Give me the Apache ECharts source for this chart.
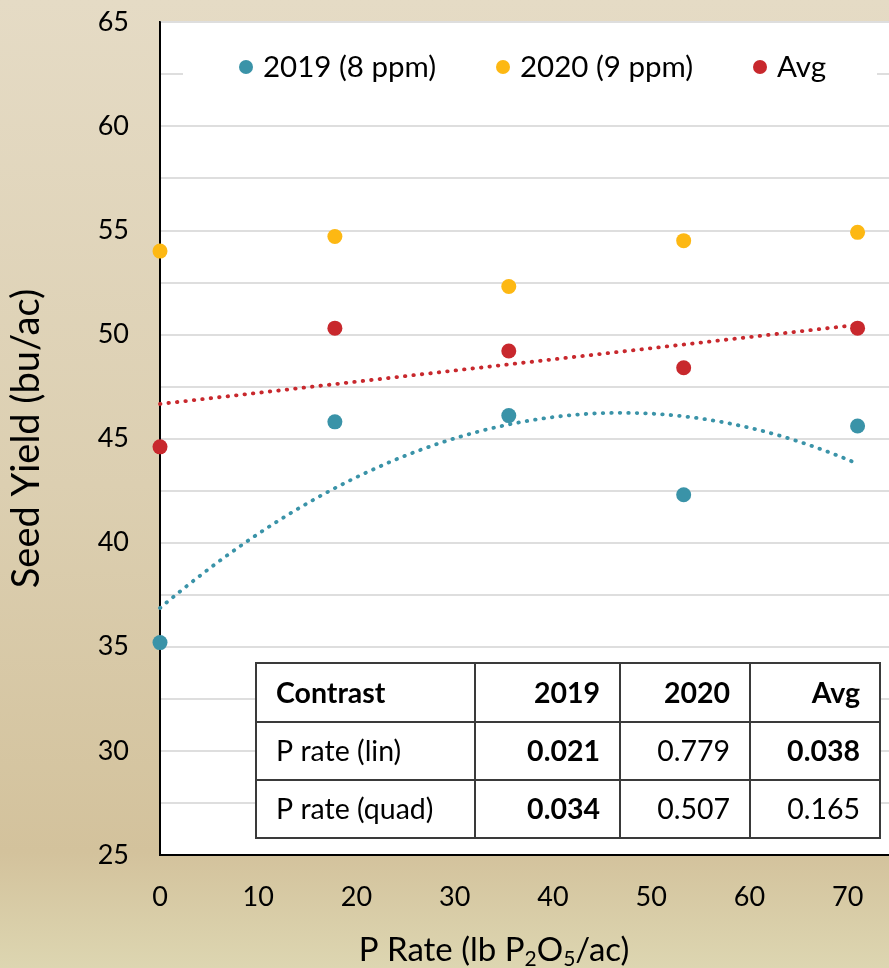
<!DOCTYPE html>
<html>
<head>
<meta charset="utf-8">
<title>Seed Yield vs P Rate</title>
<script src="https://cdn.jsdelivr.net/npm/echarts@6/dist/echarts.min.js"></script>
<style>
  html, body { margin: 0; padding: 0; overflow: hidden; }
  #chart { width: 960px; height: 968px; }
</style>
</head>
<body>
<div id="chart"></div>
<script>
// P application rates (lb P2O5/ac)
const pRate = [0, 17.8, 35.5, 53.3, 71];
// Seed yield (bu/ac) by season
const yield2019 = [35.2, 45.8, 46.1, 42.3, 45.6];
const yield2020 = [54.0, 54.7, 52.3, 54.5, 54.9];
const yieldAvg = [44.6, 50.3, 49.2, 48.4, 50.3];

const seriesNames = ['2019 (8 ppm)', '2020 (9 ppm)', 'Avg'];

// Contrast p-values table
const tableHeader = ['Contrast', '2019', '2020', 'Avg'];
const tableRows = [
  ['P rate (lin)', '0.021', '0.779', '0.038'],
  ['P rate (quad)', '0.034', '0.507', '0.165']
];

const FONT = 'Lato, "Noto Sans", sans-serif';
const C2019 = '#3a93a8';
const C2020 = '#fdb813';
const CAVG = '#c8282d';

// Least-squares polynomial fit -> coefficients [c0, c1, (c2)]
function polyFit(xs, ys, deg) {
  const n = deg + 1;
  const A = [];
  for (let i = 0; i < n; i++) {
    A.push([]);
    for (let j = 0; j < n; j++) {
      let s = 0;
      xs.forEach(x => { s += Math.pow(x, i + j); });
      A[i].push(s);
    }
    let b = 0;
    xs.forEach((x, k) => { b += Math.pow(x, i) * ys[k]; });
    A[i].push(b);
  }
  for (let c = 0; c < n; c++) {
    for (let r = c + 1; r < n; r++) {
      const f = A[r][c] / A[c][c];
      for (let k = c; k <= n; k++) A[r][k] -= f * A[c][k];
    }
  }
  const coef = new Array(n).fill(0);
  for (let r = n - 1; r >= 0; r--) {
    let s = A[r][n];
    for (let k = r + 1; k < n; k++) s -= A[r][k] * coef[k];
    coef[r] = s / A[r][r];
  }
  return coef;
}

function trendPoints(coef) {
  const x0 = pRate[0], x1 = pRate[pRate.length - 1];
  const pts = [];
  const steps = 80;
  for (let i = 0; i <= steps; i++) {
    const x = x0 + (x1 - x0) * i / steps;
    let y = 0;
    coef.forEach((c, p) => { y += c * Math.pow(x, p); });
    pts.push([x, y]);
  }
  return pts;
}

const quad2019 = trendPoints(polyFit(pRate, yield2019, 2));
const linAvg = trendPoints(polyFit(pRate, yieldAvg, 1));

const zip = ys => pRate.map((x, i) => [x, ys[i]]);

// Table drawn as graphic cells
const colEdges = [256, 475, 620, 750, 880];
const rowEdges = [663, 722, 780, 838];
const tableEls = [];
const allRows = [tableHeader].concat(tableRows);
allRows.forEach((row, r) => {
  row.forEach((txt, c) => {
    const x0 = colEdges[c], x1 = colEdges[c + 1];
    const y0 = rowEdges[r], y1 = rowEdges[r + 1];
    tableEls.push({
      type: 'rect', z: 10,
      shape: { x: x0, y: y0, width: x1 - x0, height: y1 - y0 },
      style: { fill: '#ffffff', stroke: '#3a3a3a', lineWidth: 2 }
    });
    const isNum = c > 0;
    const bold = r === 0 || (isNum && parseFloat(txt) < 0.05);
    tableEls.push({
      type: 'text', z: 11,
      style: {
        text: txt,
        x: isNum ? x1 - 20 : x0 + 20,
        y: (y0 + y1) / 2 + 1,
        align: isNum ? 'right' : 'left',
        verticalAlign: 'middle',
        fontFamily: FONT,
        fontSize: 28.5,
        fontWeight: bold ? 'bold' : 'normal',
        fill: '#000'
      }
    });
  });
});

const legendCommon = {
  orient: 'horizontal', top: 52, padding: 0,
  icon: 'circle', itemWidth: 24, itemHeight: 14,
  textStyle: { fontFamily: FONT, fontSize: 29.5, color: '#000' },
  z: 6
};

const option = {
  animation: false,
  backgroundColor: {
    type: 'linear', x: 0, y: 0, x2: 0, y2: 1,
    colorStops: [
      { offset: 0, color: '#e5dbc5' },
      { offset: 0.5, color: '#dccfb1' },
      { offset: 0.88, color: '#d3c29c' },
      { offset: 1, color: '#ddd6b1' }
    ]
  },
  grid: {
    left: 160, top: 22, right: 14, bottom: 113,
    outerBoundsMode: 'none', containLabel: false,
    show: true, backgroundColor: '#ffffff',
    borderColor: '#000', borderWidth: 2
  },
  legend: [
    Object.assign({ data: [seriesNames[0]], left: 239 }, legendCommon),
    Object.assign({ data: [seriesNames[1]], left: 496 }, legendCommon),
    Object.assign({ data: [seriesNames[2]], left: 753 }, legendCommon)
  ],
  xAxis: {
    type: 'value', min: 0, max: 80, interval: 10,
    axisLine: { show: true, lineStyle: { color: '#000', width: 2 } },
    axisTick: { show: false },
    splitLine: { show: false },
    axisLabel: {
      fontFamily: FONT, fontSize: 27, color: '#000', margin: 29,
      formatter: v => (v > 70 ? '' : String(v))
    }
  },
  yAxis: {
    type: 'value', min: 25, max: 65, interval: 2.5,
    axisLine: { show: true, lineStyle: { color: '#000', width: 2 } },
    axisTick: { show: false },
    splitLine: { show: true, lineStyle: { color: '#dedede', width: 2 } },
    axisLabel: {
      fontFamily: FONT, fontSize: 27, color: '#000', margin: 31,
      formatter: v => (v % 5 === 0 ? String(v) : '')
    },
    name: 'Seed Yield (bu/ac)',
    nameLocation: 'middle', nameRotate: 90, nameGap: 114,
    nameTextStyle: { fontFamily: FONT, fontSize: 38, color: '#000' }
  },
  graphic: [
    {
      type: 'rect', z: 1,
      shape: { x: 183, y: 50, width: 694, height: 36 },
      style: { fill: '#ffffff' }
    },
    { type: 'group', z: 10, children: tableEls },
    {
      type: 'text', z: 5,
      style: {
        text: 'P Rate (lb P{s|2}O{s|5}/ac)',
        x: 494, y: 950,
        align: 'center', verticalAlign: 'middle',
        fontFamily: FONT, fontSize: 33, fill: '#000', lineHeight: 40,
        rich: {
          s: { fontFamily: FONT, fontSize: 21, fill: '#000', verticalAlign: 'bottom', lineHeight: 16 }
        }
      }
    }
  ],
  series: [
    {
      name: seriesNames[0], type: 'scatter', data: zip(yield2019),
      symbolSize: 15, itemStyle: { color: C2019, opacity: 1 }, z: 3
    },
    {
      name: seriesNames[1], type: 'scatter', data: zip(yield2020),
      symbolSize: 15, itemStyle: { color: C2020, opacity: 1 }, z: 3
    },
    {
      name: seriesNames[2], type: 'scatter', data: zip(yieldAvg),
      symbolSize: 15, itemStyle: { color: CAVG, opacity: 1 }, z: 3
    },
    {
      name: '2019 trend', type: 'line', data: quad2019, showSymbol: false, symbol: 'none',
      lineStyle: { color: C2019, width: 3.8, type: [0.5, 8], cap: 'round' }, z: 4, silent: true
    },
    {
      name: 'Avg trend', type: 'line', data: linAvg, showSymbol: false, symbol: 'none',
      lineStyle: { color: CAVG, width: 3.8, type: [0.5, 8], cap: 'round' }, z: 4, silent: true
    }
  ]
};

const chart = echarts.init(document.getElementById('chart'), null, { renderer: 'canvas' });
chart.setOption(option);
</script>
</body>
</html>
